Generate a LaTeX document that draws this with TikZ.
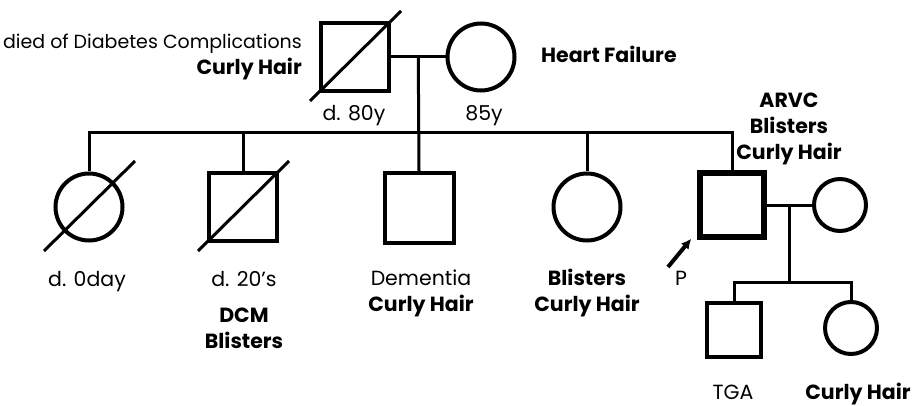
\documentclass[tikz,border=0pt]{standalone}
\usepackage{fontspec}
\setmainfont{Poppins}
\usetikzlibrary{positioning,arrows.meta,calc}

\begin{document}
\begin{tikzpicture}[>=Latex, x=1pt, y=-1pt,
    male/.style={rectangle, draw, line width=4pt, minimum size=68pt, inner sep=0pt},
    female/.style={circle, draw, line width=4pt, minimum size=67pt, inner sep=0pt},
    rel/.style={line width=3pt},
    lbl/.style={font=\fontsize{20.5}{26}\selectfont, inner sep=0pt, anchor=base}]

    \useasboundingbox (0,0) rectangle (912,406);

    % generation I
    \node[male] (I1) at (355,57) {};
    \node[female] (I2) at (481,57) {};

    % generation II
    \node[female] (II1) at (89,207) {};
    \node[male] (II2) at (243,207) {};
    \node[male, minimum size=69pt] (II3) at (419,208) {};
    \node[female] (II4) at (587,207) {};
    \node[male, line width=5.5pt, minimum size=64pt] (II5) at (732,205) {};
    \node[female, minimum size=52pt] (II6) at (840,205) {};

    % generation III
    \node[male, minimum size=54pt] (III1) at (734,330) {};
    \node[female, minimum size=52pt] (III2) at (851,328) {};

    % deceased
    \foreach \n in {I1, II1, II2}
        \draw[rel] ($(\n.center)+(-45,44)$) -- ($(\n.center)+(46,-46)$);

    % first couple and sibship
    \coordinate (m1) at ($(I1.east)!0.5!(I2.west)$);
    \coordinate (s1) at (0,133);
    \draw[rel] (I1.east) -- (I2.west);
    \draw[rel] (m1) -- (II3.north);
    \draw[rel] (II1.north) -- (II1.north |- s1) -- (II5.north |- s1) -- (II5.north);
    \foreach \n in {II2, II4}
        \draw[rel] (\n.north) -- (\n.north |- s1);

    % second couple and sibship
    \coordinate (m2) at ($(II5.east)!0.5!(II6.west)$);
    \coordinate (s2) at (0,282);
    \draw[rel] (II5.east) -- (II6.west);
    \draw[rel] (m2) -- (m2 |- s2);
    \draw[rel] (III1.north) -- (III1.north |- s2) -- (III2.north |- s2) -- (III2.north);

    % proband
    \node[lbl] (P) at (681,285) {P};
    \coordinate (ptail) at (668,267);
    \draw[-{Latex[length=10pt,width=10pt]}, line width=4pt] (ptail) -- ($(II5.south west)+(-6,-1)$);

    % labels
    \node[lbl, align=right, anchor=base east, font=\fontsize{19}{26}\selectfont] (I1note) at (302,75) {died of Diabetes Complications\\\textbf{\fontsize{20.5}{26}\selectfont Curly Hair}};
    \node[lbl] (I1age) at (354,121) {d. 80y};
    \node[lbl] (I2age) at (484,121) {85y};
    \node[lbl, anchor=base west] (I2note) at (541,63) {\textbf{Heart Failure}};
    \node[lbl] (II1note) at (87,286) {d. 0day};
    \node[lbl, align=center] (II2note) at (244,348) {d. 20’s\\[10pt]\textbf{DCM}\\\textbf{Blisters}};
    \node[lbl, align=center] (II3note) at (421,311) {Dementia\\\textbf{Curly Hair}};
    \node[lbl, align=center] (II4note) at (587,311) {\textbf{Blisters}\\\textbf{Curly Hair}};
    \node[lbl, align=center] (II5note) at (789,160) {\textbf{ARVC}\\\textbf{Blisters}\\\textbf{Curly Hair}};
    \node[lbl] (III1note) at (733,399) {TGA};
    \node[lbl] (III2note) at (858,399) {\textbf{Curly Hair}};

\end{tikzpicture}
\end{document}
